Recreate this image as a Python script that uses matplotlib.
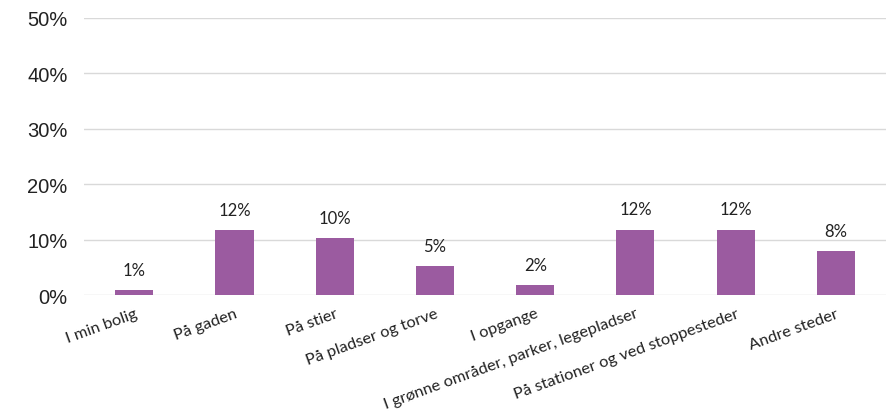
import matplotlib.pyplot as plt
from matplotlib.ticker import PercentFormatter

categories = ['I min bolig', 'På gaden', 'På stier', 'På pladser og torve', 'I opgange',
              'I grønne områder, parker, legepladser', 'På stationer og ved stoppesteder', 'Andre steder']
values = [0.9, 11.7, 10.2, 5.2, 1.8, 11.8, 11.8, 7.9]
labels = ['1%', '12%', '10%', '5%', '2%', '12%', '12%', '8%']

fig = plt.figure(figsize=(8.86, 4.14), dpi=100)
ax = fig.add_axes([0.095, 0.285, 0.905, 0.67])

x = range(len(categories))
bars = ax.bar(x, values, width=0.38, color='#9b5ba0', zorder=3)

for b, lab in zip(bars, labels):
    ax.text(b.get_x() + b.get_width() / 2, b.get_height() + 2.2, lab,
            ha='center', va='bottom', fontsize=12, family='Lato', color='#222222')

ax.set_ylim(0, 50)
ax.set_xlim(-0.5, len(categories) - 0.5)
ax.set_yticks([0, 10, 20, 30, 40, 50])
ax.yaxis.set_major_formatter(PercentFormatter(decimals=0))
ax.grid(axis='y', color='#d9d9d9', linewidth=1, zorder=0)
for s in ax.spines.values():
    s.set_visible(False)
ax.tick_params(length=0)
ax.tick_params(axis='y', labelsize=14.5, pad=12, labelcolor='#222222')
for t in ax.get_yticklabels():
    t.set_family('Liberation Sans')

ax.set_xticks(list(x))
ax.set_xticklabels(categories, rotation=20, ha='right', rotation_mode='anchor',
                   fontsize=11.8, family='Lato', color='#222222')
ax.tick_params(axis='x', pad=8)

fig.savefig('out.png', dpi=100)
